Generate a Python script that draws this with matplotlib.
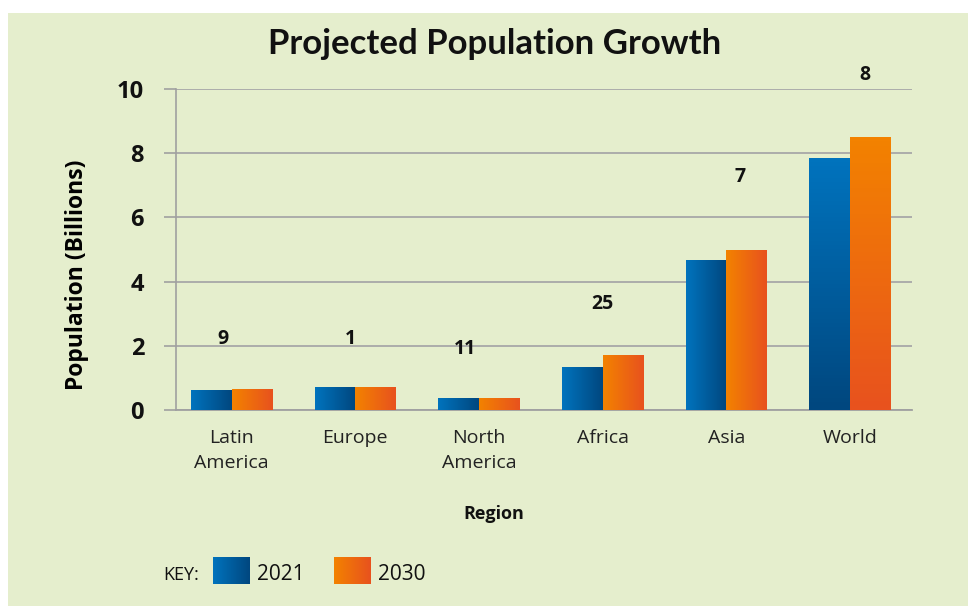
import numpy as np
import matplotlib
matplotlib.use('Agg')
import matplotlib.pyplot as plt
from matplotlib.colors import LinearSegmentedColormap

plt.rcParams['font.family'] = ['Open Sans', 'DejaVu Sans']

# population data, billions
regions = ['Latin\nAmerica', 'Europe', 'North\nAmerica', 'Africa', 'Asia', 'World']
pop_2021 = [0.63, 0.73, 0.37, 1.33, 4.67, 7.85]
pop_2030 = [0.66, 0.72, 0.37, 1.70, 5.00, 8.50]
growth_pct = ['9', '1', '11', '25', '7', '8']
years = ['2021', '2030']

bg = '#E5EECD'
blue_cm = LinearSegmentedColormap.from_list('blu', ['#0073BD', '#00477F'])
orange_cm = LinearSegmentedColormap.from_list('org', ['#F38200', '#E8521E'])

fig = plt.figure(figsize=(9.68, 6.06), dpi=100)
fig.patch.set_facecolor('white')
# green panel behind everything
fig.patches.append(plt.Rectangle((8/968, 0), 1, 1 - 13/606, transform=fig.transFigure,
                                 facecolor=bg, edgecolor='none', zorder=-10))

ax = fig.add_axes([176/968, 1 - 410/606, 736/968, 321/606])
ax.set_facecolor('none')

x = np.arange(len(regions))
w = 0.33


def gradient_bar(xc, h, cmap, vertical=False):
    bar = ax.bar(xc, h, w, color='none', edgecolor='none', zorder=3)[0]
    if vertical:
        g = np.linspace(0, 1, 64).reshape(-1, 1)
    else:
        g = np.linspace(0, 1, 64).reshape(1, -1)
    im = ax.imshow(g, cmap=cmap, aspect='auto', origin='upper' if vertical else 'lower',
                   extent=[xc - w/2, xc + w/2, 0, h], zorder=3)
    im.set_clip_path(bar)
    return bar


for i in x:
    vert = regions[i] == 'World'
    gradient_bar(i - w/2, pop_2021[i], blue_cm, vert)
    gradient_bar(i + w/2, pop_2030[i], orange_cm, vert)

# growth labels above each group (pixel offsets from the taller bar top)
label_dx = [-9, -5, -14, 0, 14, 15]
label_dy = [50, 48, 49, 51, 73, 62]
for i in x:
    top = max(pop_2021[i], pop_2030[i])
    ax.annotate(growth_pct[i], (i, top), xytext=(label_dx[i] * 0.72, label_dy[i] * 0.72),
                textcoords='offset points', ha='center', va='center',
                fontsize=14, fontweight='bold', color='#111111')

ax.set_xlim(-0.45, len(regions) - 0.5)
ax.set_ylim(0, 10)
ax.set_yticks([0, 2, 4, 6, 8, 10])
ax.set_xticks(x)
ax.set_xticklabels(regions, fontsize=14, color='#222222', linespacing=1.45)
ax.tick_params(axis='x', length=0, pad=14)
ax.tick_params(axis='y', length=9, color='#A0A0A0', width=1.2, pad=14,
               labelsize=17, labelcolor='#111111')
for lab in ax.get_yticklabels():
    lab.set_fontweight('bold')
ax.grid(axis='y', color='#A8A8A8', linewidth=1.3, zorder=0)
ax.set_axisbelow(True)
for s in ['top', 'right']:
    ax.spines[s].set_visible(False)
ax.spines['left'].set_color('#A0A0A0')
ax.spines['bottom'].set_color('#A0A0A0')
ax.spines['left'].set_linewidth(1.2)
ax.spines['bottom'].set_linewidth(1.3)

ax.set_ylabel('Population (Billions)', fontsize=16.5, fontweight='bold', labelpad=20)
ax.yaxis.label.set_y(0.42)
fig.text(494/968, 1 - 514/606, 'Region', ha='center', va='center',
         fontsize=13, fontweight='bold', color='#111111')
fig.text(495/968, 1 - 44/606, 'Projected Population Growth', ha='center', va='center',
         fontsize=25, fontweight='bold', color='#111111',
         family=['Lato', 'Open Sans', 'DejaVu Sans'])

# key
fig.text(163/968, 1 - 575/606, 'KEY:', ha='left', va='center', fontsize=13, color='#111111')
for j, (cm, yr) in enumerate(zip([blue_cm, orange_cm], years)):
    x0 = 213 + j * 121
    kax = fig.add_axes([x0/968, 1 - 584/606, 37/968, 27/606])
    kax.imshow(np.linspace(0, 1, 64).reshape(1, -1), cmap=cm, aspect='auto')
    kax.set_axis_off()
    fig.text((x0 + 44)/968, 1 - 574/606, yr, ha='left', va='center', fontsize=15,
             color='#111111')

fig.savefig('out.png', dpi=100, facecolor=fig.get_facecolor())
